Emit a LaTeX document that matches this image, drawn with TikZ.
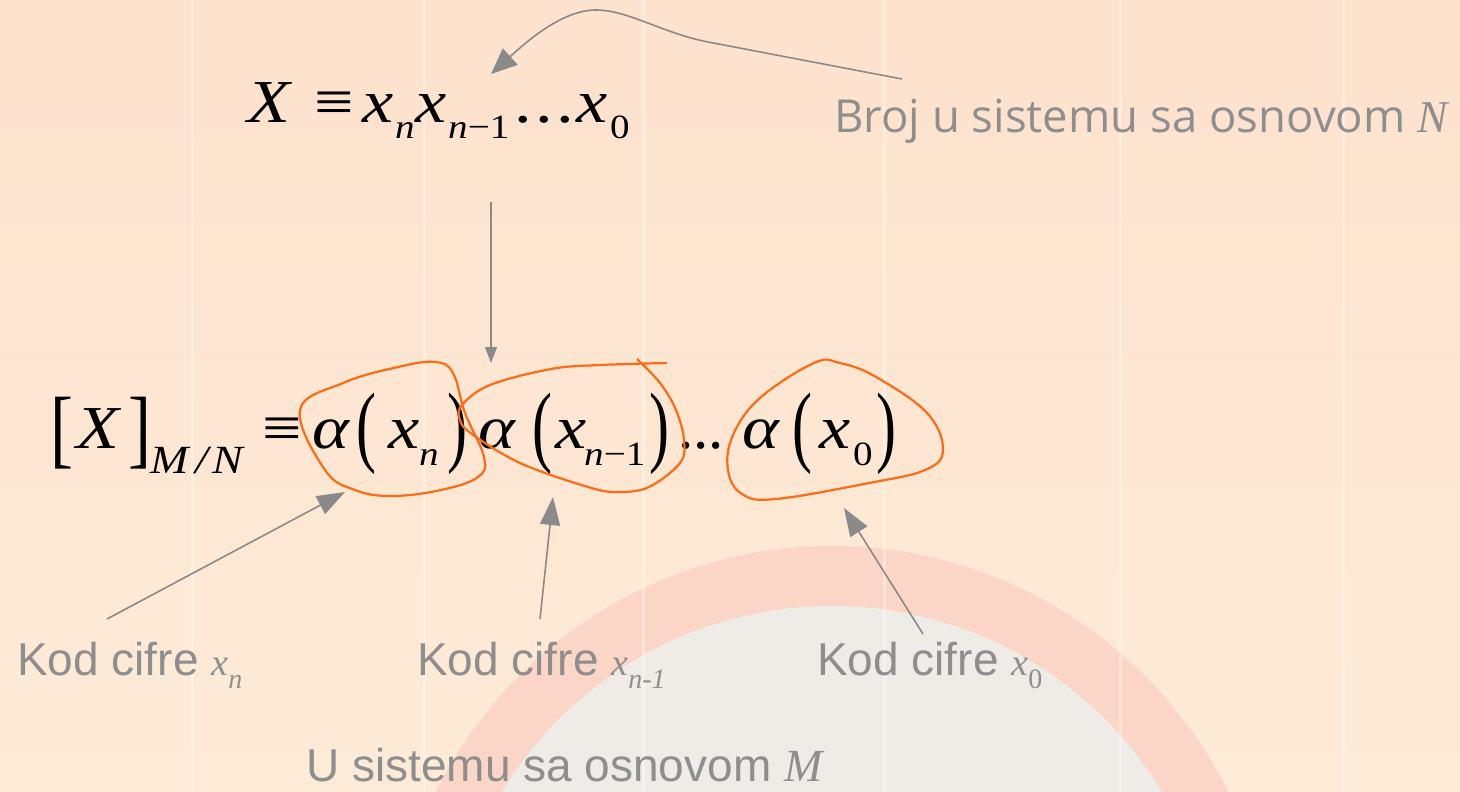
\documentclass[tikz,border=0pt]{standalone}
\usepackage{fontspec}
\setmainfont{Liberation Serif}
\newfontfamily\lsans{Liberation Sans}
\newfontfamily\osans{Open Sans}
\usetikzlibrary{arrows.meta}
\definecolor{bgtop}{HTML}{FDE2CD}
\definecolor{bgbot}{HTML}{FDEBD7}
\definecolor{ringc}{HTML}{FBD6C6}
\definecolor{innerc}{HTML}{EFEBE7}
\definecolor{annot}{HTML}{8E8E8E}
\definecolor{arrc}{HTML}{8A8A8A}
\definecolor{loopc}{HTML}{FF6A13}
\newcommand{\hs}[1]{\scalebox{1.15}[1]{#1}}
\begin{document}
\begin{tikzpicture}[x=1pt,y=-1pt,
  m/.style={inner sep=0pt, anchor=base west, font=\fontsize{61}{61}\selectfont\itshape},
  mu/.style={inner sep=0pt, anchor=base west, font=\fontsize{61}{61}\selectfont},
  sb/.style={inner sep=0pt, anchor=base west, font=\fontsize{34}{34}\selectfont\itshape},
  sbu/.style={inner sep=0pt, anchor=base west, font=\fontsize{34}{34}\selectfont},
  par/.style={inner sep=0pt, anchor=center, font=\fontsize{60}{60}\selectfont},
  lab/.style={inner sep=0pt, anchor=base west, text=annot, font=\lsans\fontsize{46}{46}\selectfont},
  garrow/.style={draw=arrc, line width=1.6pt, -{Triangle[length=28pt,width=20pt]}},
  loop/.style={draw=loopc, line width=2.2pt},
  stripe/.style={fill=white, opacity=0.35}
]
\useasboundingbox (0,0) rectangle (1460,792);
% background
\shade[top color=bgtop, bottom color=bgbot] (0,0) rectangle (1460,792);
\begin{scope}
\clip (0,0) rectangle (1460,792);
\fill[ringc] (832,988) circle[radius=442];
\fill[innerc] (832,992) circle[radius=386];
\end{scope}
\foreach \sx in {192,424,643,884,1120,1343}{
  \fill[stripe] (\sx-1.5,0) rectangle (\sx+1.5,792);
}
% top formula
\node[m] (tX) at (247,122) {\hs{X}};
\node[mu] (teq) at (314,122) {\hs{≡}};
\node[m] (tx1) at (362,122) {\hs{x}};
\node[sb] (tn1) at (395,139) {\hs{n}};
\node[m] (tx2) at (415,122) {\hs{x}};
\node[sb] (tn2) at (448,139) {\hs{n\textup{−1}}};
\node[mu] (tdots) at (514,122) {\hs{.\hspace{3pt}.\hspace{3pt}.}};
\node[m] (tx3) at (576,122) {\hs{x}};
\node[sbu] (t0) at (610,139) {\hs{0}};
% middle formula
\node[par] (lb) at (62,433) {\scalebox{1.15}[1.45]{[}};
\node[m] (mX) at (76,448) {\hs{X}};
\node[par] (rb) at (140,433) {\scalebox{1.15}[1.45]{]}};
\node[inner sep=0pt, anchor=base west, font=\fontsize{40}{40}\selectfont\itshape] (mMN) at (150,473) {\hs{M\hspace{6pt}/\hspace{4pt}N}};
\node[mu] (meq) at (262,448) {\hs{≡}};
\node[m] (a1) at (312,448) {\hs{α}};
\node[par] (p1l) at (366,433.5) {\scalebox{1}[1.5]{(}};
\node[m] (x1) at (388,448) {\hs{x}};
\node[sb] (n1) at (419,465) {\hs{n}};
\node[par] (p1r) at (457,433.5) {\scalebox{1}[1.5]{)}};
\node[m] (a2) at (478,448) {\hs{α}};
\node[par] (p2l) at (542,433.5) {\scalebox{1}[1.5]{(}};
\node[m] (x2) at (555,448) {\hs{x}};
\node[sb] (n2) at (584,465) {\hs{n\textup{−1}}};
\node[par] (p2r) at (659,433.5) {\scalebox{1}[1.5]{)}};
\node[mu] (mdots) at (678,448) {...};
\node[m] (a3) at (742,448) {\hs{α}};
\node[par] (p3l) at (802,433.5) {\scalebox{1}[1.5]{(}};
\node[m] (x3) at (819,448) {\hs{x}};
\node[sbu] (z3) at (853,465) {\hs{0}};
\node[par] (p3r) at (886,433.5) {\scalebox{1}[1.5]{)}};
% orange loops
\draw[loop] plot[smooth cycle, tension=0.65] coordinates {(300,410) (325,470) (355,490) (392,496) (441,490) (478,477) (484,457) (465,413) (453,373) (435,362) (398,367) (343,383)};
\draw[loop] plot[smooth, tension=0.6] coordinates {(667,363) (600,365) (551,369) (490,385) (462,405) (460,420) (472,434) (520,463) (588,487) (618,492) (649,487) (680,463) (684,440) (676,410) (660,383) (637,359)};
\draw[loop] plot[smooth cycle, tension=0.65] coordinates {(814,363) (760,398) (733,435) (728,470) (742,494) (776,499) (869,483) (925,470) (943,450) (927,413) (876,377) (840,363)};
% labels
\node[inner sep=0pt, anchor=base west, text=annot, font=\osans\fontsize{45.5}{46}\selectfont] (broj) at (834,132) {Broj u sistemu sa osnovom {\rmfamily\itshape N}};
\node[lab] (l1) at (17,675) {Kod cifre {\rmfamily\itshape\fontsize{38}{38}\selectfont x\raisebox{-13pt}{\fontsize{28}{28}\selectfont n}}};
\node[lab] (l2) at (417,675) {Kod cifre {\rmfamily\itshape\fontsize{38}{38}\selectfont x\raisebox{-13pt}{\fontsize{28}{28}\selectfont n-1}}};
\node[lab] (l3) at (817,675) {Kod cifre {\rmfamily\itshape\fontsize{38}{38}\selectfont x\raisebox{-13pt}{\fontsize{28}{28}\selectfont\upshape 0}}};
\node[lab] (lb2) at (306,781) {U sistemu sa osnovom {\rmfamily\itshape M}};
% arrows
\coordinate (bs) at (902,79);
\coordinate (bt) at (491,74);
\draw[garrow, -{Triangle[length=26pt,width=22pt]}] (bs) -- (708,42) .. controls (662,33) and (628,10) .. (596,10) .. controls (560,10) and (522,46) .. (bt);
\coordinate (ds) at (491,202);
\coordinate (dt) at (491,363);
\draw[garrow, line width=1.2pt, -{Triangle[length=16pt,width=12pt]}] (ds) -- (dt);
\coordinate (s1) at (107,619);
\coordinate (e1) at (345,492);
\draw[garrow] (s1) -- (e1);
\coordinate (s2) at (540,619);
\coordinate (e2) at (553,497);
\draw[garrow] (s2) -- (e2);
\coordinate (s3) at (923,634);
\coordinate (e3) at (844,508);
\draw[garrow] (s3) -- (e3);
\end{tikzpicture}
\end{document}
